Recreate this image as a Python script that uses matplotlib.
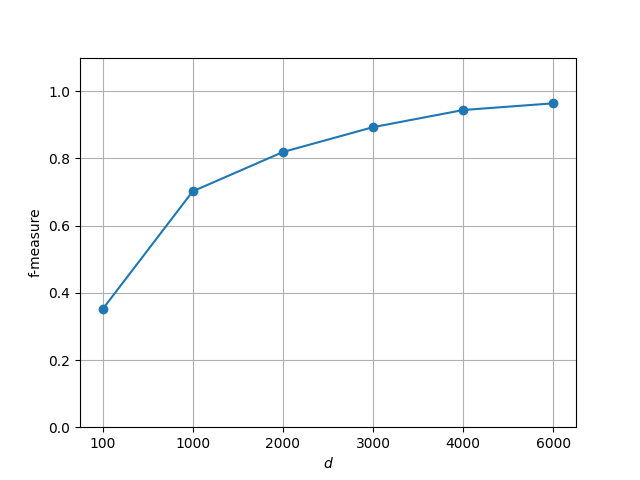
import matplotlib
matplotlib.use("Agg")
import matplotlib.pyplot as plt

categories = ["100", "1000", "2000", "3000", "4000", "6000"]
fmeasure = [0.351, 0.702, 0.819, 0.893, 0.944, 0.964]

fig, ax = plt.subplots(figsize=(6.4, 4.8), dpi=100)
x = list(range(len(categories)))
ax.plot(x, fmeasure, marker="o", color="#1f77b4")
ax.set_xticks(x)
ax.set_xticklabels(categories)
ax.set_ylim(0, 1.1)
ax.set_xlabel("$d$")
ax.set_ylabel("f-measure")
ax.grid(True)
fig.savefig("out.png")
